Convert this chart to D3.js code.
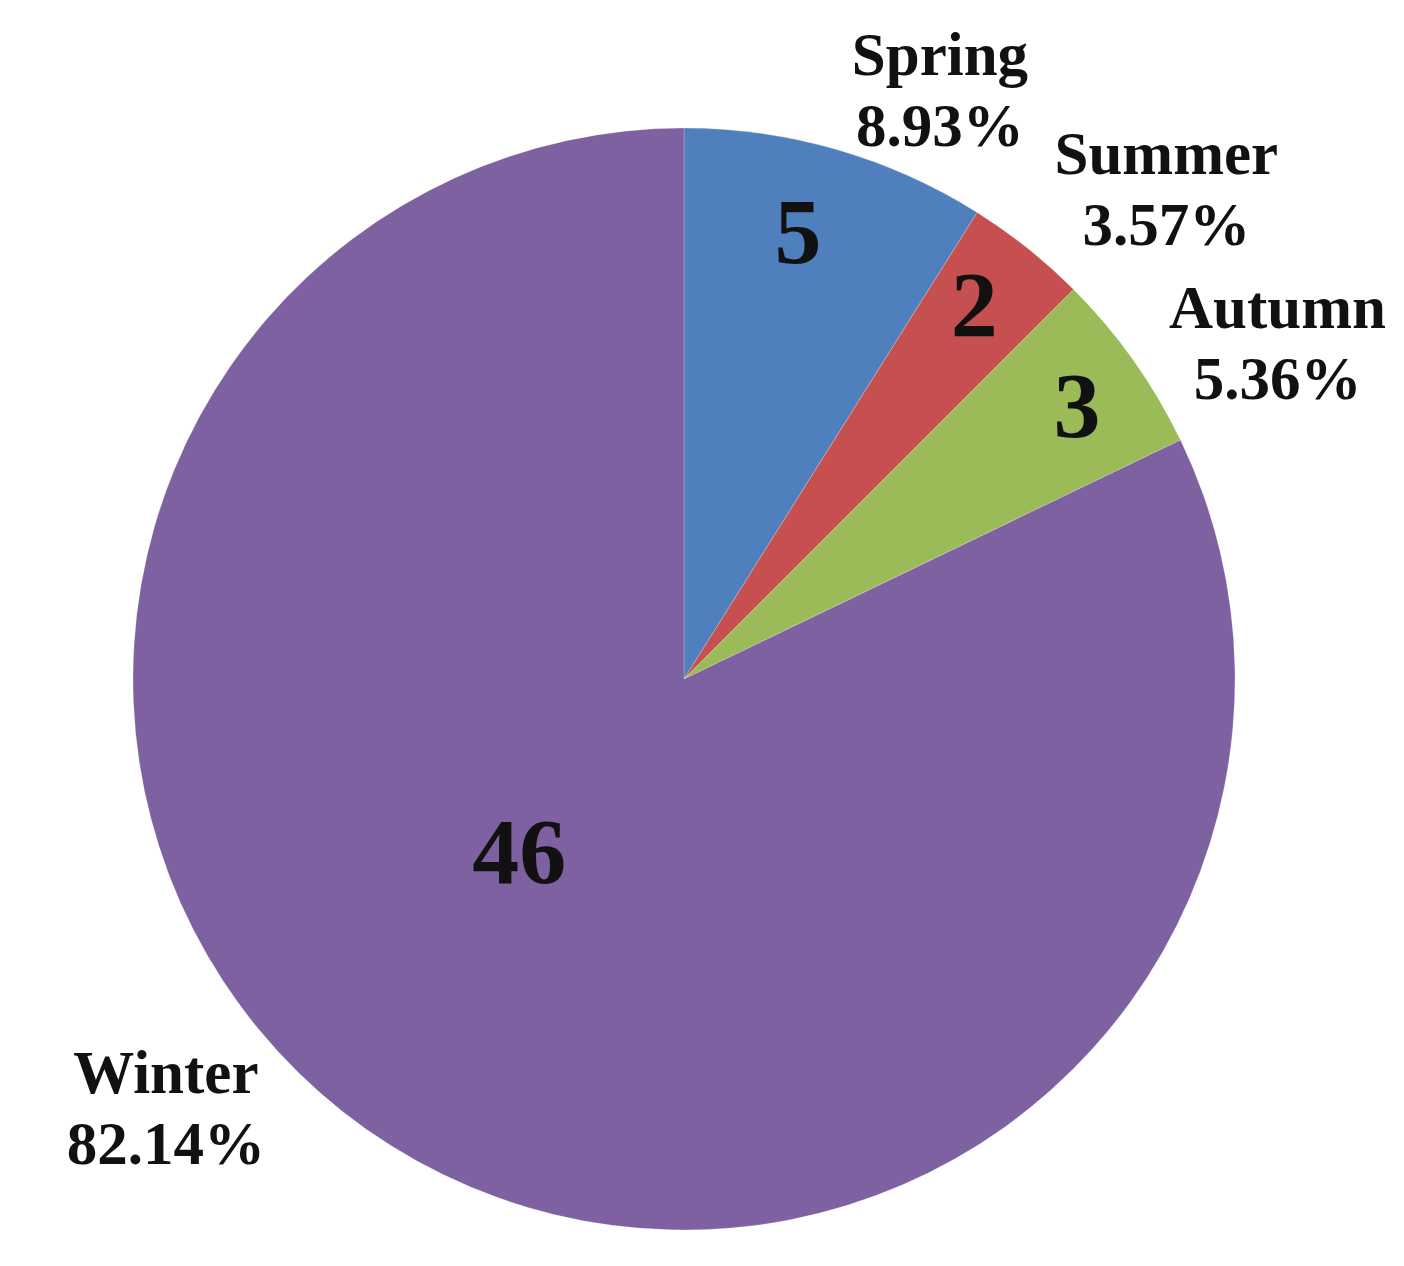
<!DOCTYPE html>
<html>
<head>
<meta charset="utf-8">
<script src="https://cdn.jsdelivr.net/npm/d3@7"></script>
<style>
  html, body { margin: 0; padding: 0; background: #ffffff; }
  svg { display: block; }
  text { font-family: "Liberation Serif", "Times New Roman", serif; font-weight: bold; fill: #111; }
</style>
</head>
<body>
<svg id="chart" width="1404" height="1266"></svg>
<script>
// ---- data ----
const categories = ["Spring", "Summer", "Autumn", "Winter"];
const counts = [5, 2, 3, 46];
const percentLabels = ["8.93%", "3.57%", "5.36%", "82.14%"];
const colors = ["#4F80BD", "#C65050", "#9BBB59", "#7D61A0"];

// ---- layout ----
const cx = 684, cy = 679, R = 551;
// label placement tweaks (angle offset in degrees, radius in px)
const valueLabelLayout = [
  {da: -1.8, r: 462}, {da: -0.8, r: 474}, {da: 0.5, r: 479}, {da: 11.7, r: 238}
];
const outerLabelLayout = [
  {da: 7.5, r: 640}, {da: 6.1, r: 686}, {da: 6.0, r: 681}, {da: 18.1, r: 674}
];

const svg = d3.select("#chart");
const g = svg.append("g").attr("transform", `translate(${cx},${cy})`);

const data = categories.map((c, i) => ({cat: c, value: counts[i], pct: percentLabels[i], color: colors[i]}));

const pie = d3.pie().value(d => d.value).sort(null).startAngle(0).endAngle(2 * Math.PI);
const arcs = pie(data);
const arc = d3.arc().innerRadius(0).outerRadius(R);

g.selectAll("path.slice")
  .data(arcs)
  .enter().append("path")
  .attr("class", "slice")
  .attr("d", arc)
  .attr("fill", d => d.data.color)
  .attr("stroke", "rgba(255,255,255,0.25)")
  .attr("stroke-width", 0.8);

function polar(angleRad, r) {
  return [Math.sin(angleRad) * r, -Math.cos(angleRad) * r];
}

// value labels inside slices
g.selectAll("text.value")
  .data(arcs)
  .enter().append("text")
  .attr("class", "value")
  .attr("text-anchor", "middle")
  .attr("dominant-baseline", "central")
  .style("font-size", "94px")
  .attr("transform", (d, i) => {
    const mid = (d.startAngle + d.endAngle) / 2 + valueLabelLayout[i].da * Math.PI / 180;
    const [x, y] = polar(mid, valueLabelLayout[i].r);
    return `translate(${x},${y})`;
  })
  .text(d => d.data.value);

// outer category / percent labels
const outer = g.selectAll("g.outer")
  .data(arcs)
  .enter().append("g")
  .attr("class", "outer")
  .attr("transform", (d, i) => {
    const mid = (d.startAngle + d.endAngle) / 2 + outerLabelLayout[i].da * Math.PI / 180;
    const [x, y] = polar(mid, outerLabelLayout[i].r);
    return `translate(${x},${y})`;
  });

outer.append("text")
  .attr("text-anchor", "middle")
  .style("font-size", "61px")
  .attr("y", -17)
  .text(d => d.data.cat);

outer.append("text")
  .attr("text-anchor", "middle")
  .style("font-size", "61px")
  .attr("y", 54)
  .text(d => d.data.pct);
</script>
</body>
</html>
